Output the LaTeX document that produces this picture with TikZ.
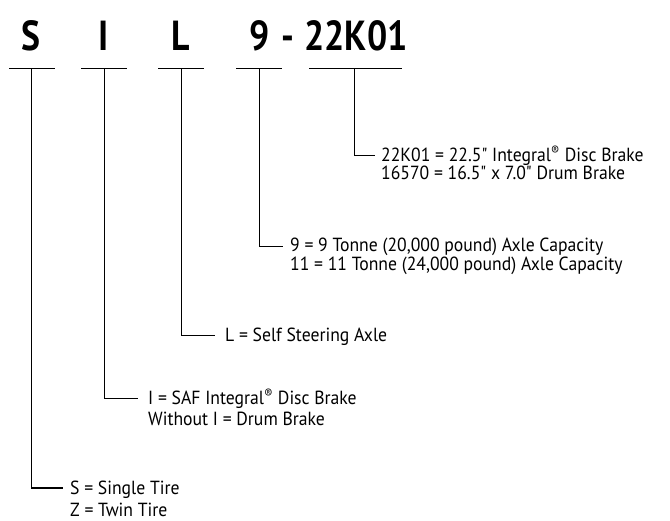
\documentclass[tikz,border=0pt]{standalone}
\usepackage{fontspec}
\setmainfont{PT Sans}
\newfontfamily\titlefont[FakeStretch=0.85]{PT Sans Bold}
\newfontfamily\descfont[FakeStretch=0.93]{PT Sans}
\begin{document}
\begin{tikzpicture}[x=1pt,y=-1pt,
  title/.style={font=\titlefont\fontsize{42}{42}\selectfont, inner sep=0pt, anchor=base},
  desc/.style={font=\descfont\fontsize{19}{19}\selectfont, inner sep=0pt, anchor=base west},
  ln/.style={line width=1pt, black}]
\useasboundingbox (0,0) rectangle (670,521);
% title letters
\node[title] (tS) at (31,51) {S};
\node[title] (tI) at (104,51) {I};
\node[title] (tL) at (181,51) {L};
\node[title] (t9) at (260,51) {9};
\node[title] (tdash) at (288,51) {-};
\node[title] (tK) at (356,51) {22K01};
% underline bars and stem tops
\coordinate (bS) at (31,68.5);
\coordinate (bI) at (104,68.5);
\coordinate (bL) at (181,68.5);
\coordinate (b9) at (259,68.5);
\coordinate (bK) at (354,68.5);
\draw[ln] (9,68.5) -- (55,68.5);
\draw[ln] (81,68.5) -- (127,68.5);
\draw[ln] (158,68.5) -- (204,68.5);
\draw[ln] (236,68.5) -- (282,68.5);
\draw[ln] (309,68.5) -- (402,68.5);
% descriptions
\node[desc] (dK1) at (381,162) {22K01 = 22.5" Integral\textsuperscript{®} Disc Brake};
\node[desc] (dK2) at (381,180) {16570 = 16.5" x 7.0" Drum Brake};
\node[desc] (d91) at (290,252) {9 = 9 Tonne (20,000 pound) Axle Capacity};
\node[desc] (d92) at (290,271) {11 = 11 Tonne (24,000 pound) Axle Capacity};
\node[desc] (dL) at (225,342) {L = Self Steering Axle};
\node[desc] (dI1) at (148,405) {I = SAF Integral\textsuperscript{®} Disc Brake};
\node[desc] (dI2) at (148,426) {Without I = Drum Brake};
\node[desc] (dS1) at (70,494) {S = Single Tire};
\node[desc] (dS2) at (70,516) {Z = Twin Tire};
% connectors
\draw[ln] (bK) |- ([xshift=-6pt]dK1.west |- 0,156);
\draw[ln] (b9) |- ([xshift=-7pt]d91.west |- 0,246.5);
\draw[ln] (bL) |- ([xshift=-10pt]dL.west |- 0,336);
\draw[ln] (bI) |- ([xshift=-10pt]dI1.west |- 0,399);
\draw[ln] (bS) |- ([xshift=-7pt]dS1.west |- 0,488);
\end{tikzpicture}
\end{document}
